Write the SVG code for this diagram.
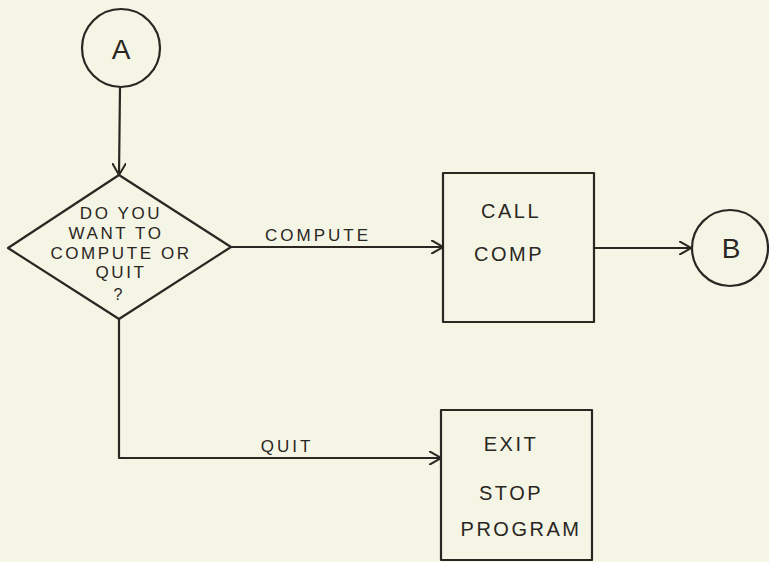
<svg xmlns="http://www.w3.org/2000/svg" width="769" height="562" viewBox="0 0 769 562">
<style>
.s{fill:none;stroke:#2a2622;stroke-width:2.2;stroke-linejoin:round;stroke-linecap:round}
.t{font-family:"Liberation Sans",Arial,sans-serif;fill:#2a2622;text-anchor:middle}
.d{font-size:17px;letter-spacing:2.6px}
.l{font-size:17px;letter-spacing:3px}
.b{font-size:20px;letter-spacing:2.5px}
</style>
<defs>
<marker id="ah" viewBox="0 0 12 14" refX="12" refY="7" markerWidth="12" markerHeight="14" markerUnits="userSpaceOnUse" orient="auto">
<path d="M0,0 L12,7 L0,14" fill="none" stroke="#2a2622" stroke-width="2"/>
</marker>
</defs>
<rect width="769" height="562" fill="#f5f5e6"/>
<g id="connectors">
<path class="s" d="M120,88 L119,175" marker-end="url(#ah)"/>
<path class="s" d="M231,247 L443,247" marker-end="url(#ah)"/>
<path class="s" d="M594,248 L691,248" marker-end="url(#ah)"/>
<path class="s" d="M119,319 L119,458 L441,458" marker-end="url(#ah)"/>
<text class="t l" x="318" y="241">COMPUTE</text>
<text class="t l" x="287" y="452">QUIT</text>
</g>
<g id="nodeA">
<circle class="s" cx="121" cy="48" r="39"/>
<text class="t" x="121" y="59" font-size="28">A</text>
</g>
<g id="decision">
<path class="s" d="M119,175 L231,247 L119,319 L8,248 Z"/>
<text class="t d" x="121" y="219">DO YOU</text>
<text class="t d" x="116" y="239">WANT TO</text>
<text class="t d" x="121" y="259">COMPUTE OR</text>
<text class="t d" x="121" y="278">QUIT</text>
<text class="t" x="118" y="300" font-size="16">?</text>
</g>
<g id="callcomp">
<rect class="s" x="443" y="173" width="151" height="149"/>
<text class="t b" x="511" y="218">CALL</text>
<text class="t b" x="509" y="261">COMP</text>
</g>
<g id="nodeB">
<circle class="s" cx="730" cy="248" r="38"/>
<text class="t" x="731" y="258" font-size="28">B</text>
</g>
<g id="exit">
<rect class="s" x="441" y="410" width="151" height="150"/>
<text class="t b" x="511" y="451">EXIT</text>
<text class="t b" x="511" y="500">STOP</text>
<text class="t b" x="521" y="536">PROGRAM</text>
</g>
</svg>
